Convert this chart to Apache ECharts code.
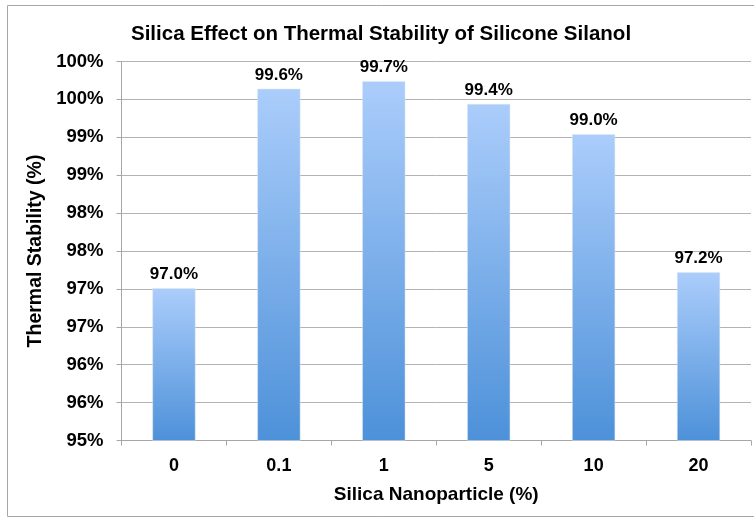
<!DOCTYPE html>
<html>
<head>
<meta charset="utf-8">
<script src="https://cdn.jsdelivr.net/npm/echarts@6/dist/echarts.min.js"></script>
<style>
html,body{margin:0;padding:0;background:#fff;}
#chart{width:754px;height:520px;}
</style>
</head>
<body>
<div id="chart"></div>
<script>
// Data
var categories = ['0', '0.1', '1', '5', '10', '20'];
var stability = [97.01, 99.64, 99.74, 99.44, 99.04, 97.22];
var yTickValues = [95, 95.5, 96, 96.5, 97, 97.5, 98, 98.5, 99, 99.5, 100];
var yTickLabels = ['95%', '96%', '96%', '97%', '97%', '98%', '98%', '99%', '99%', '100%', '100%'];

var FONT = '"Liberation Sans", Arial, sans-serif';
var chart = echarts.init(document.getElementById('chart'), null, {renderer: 'canvas'});

chart.setOption({
  backgroundColor: '#ffffff',
  animation: false,
  graphic: [{
    type: 'rect',
    shape: {x: 7.5, y: 5.5, width: 760, height: 511},
    style: {fill: 'none', stroke: '#a6a6a6', lineWidth: 1},
    silent: true, z: -1
  }],
  title: {
    text: 'Silica Effect on Thermal Stability of Silicone Silanol',
    left: 126,
    top: 19,
    textStyle: {fontFamily: FONT, fontSize: 20.5, fontWeight: 'bold', color: '#000'}
  },
  grid: {left: 121.5, right: 3, top: 61.5, bottom: 79.5, containLabel: false},
  xAxis: {
    type: 'category',
    data: categories,
    name: 'Silica Nanoparticle (%)',
    nameLocation: 'middle',
    nameGap: 45,
    nameTextStyle: {fontFamily: FONT, fontSize: 19, fontWeight: 'bold', color: '#000', verticalAlign: 'top'},
    axisLine: {lineStyle: {color: '#a6a6a6', width: 1}},
    axisTick: {show: true, alignWithLabel: false, length: 5, lineStyle: {color: '#a6a6a6'}},
    axisLabel: {fontFamily: FONT, fontSize: 18, fontWeight: 'bold', color: '#000', margin: 17},
    splitLine: {show: false}
  },
  yAxis: {
    type: 'value',
    min: 95,
    max: 100,
    interval: 0.5,
    name: 'Thermal Stability (%)',
    nameLocation: 'middle',
    nameGap: 74,
    nameTextStyle: {fontFamily: FONT, fontSize: 19.5, fontWeight: 'bold', color: '#000'},
    axisLine: {show: true, lineStyle: {color: '#a6a6a6', width: 1}},
    axisTick: {show: true, length: 5, lineStyle: {color: '#a6a6a6'}},
    axisLabel: {
      fontFamily: FONT, fontSize: 18.5, fontWeight: 'bold', color: '#000', margin: 18,
      formatter: function (v) {
        var i = yTickValues.indexOf(Math.round(v * 10) / 10);
        return i >= 0 ? yTickLabels[i] : '';
      }
    },
    splitLine: {show: true, lineStyle: {color: '#b3b3b3', width: 1}}
  },
  series: [{
    type: 'bar',
    data: stability,
    barWidth: '41%',
    itemStyle: {
      color: new echarts.graphic.LinearGradient(0, 0, 0, 1, [
        {offset: 0, color: '#abcdfb'},
        {offset: 1, color: '#4d91d9'}
      ]),
      borderColor: '#dfe6ee',
      borderWidth: 0.5
    },
    label: {
      show: true,
      position: 'top',
      distance: 5,
      fontFamily: FONT, fontSize: 17, fontWeight: 'bold', color: '#000',
      formatter: function (p) { return p.value.toFixed(1) + '%'; }
    }
  }]
});
</script>
</body>
</html>
